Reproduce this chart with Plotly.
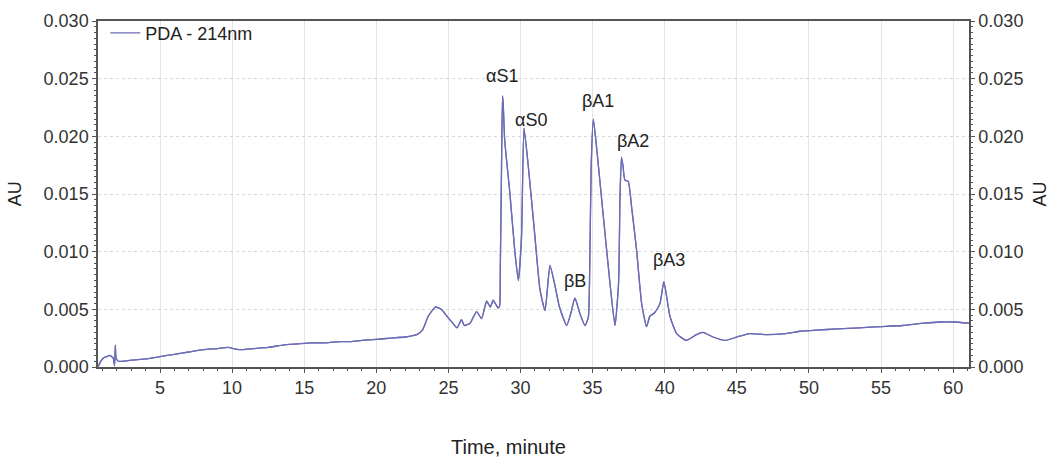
import plotly.graph_objects as go

time_min = [0.7, 0.9, 1.1, 1.3, 1.5, 1.75, 1.85, 1.9, 1.95, 2.1, 2.5, 3, 4, 5, 6, 7, 8, 9, 9.7,
            10.5, 11.5, 12.5, 13.5, 14.5, 15.5, 16.5, 17.5, 18.2, 19, 20, 21, 22, 22.8, 23.2,
            23.6, 24.1, 24.5, 24.9, 25.3, 25.6, 25.9, 26.1, 26.5, 26.95, 27.3, 27.65, 27.9,
            28.1, 28.3, 28.45, 28.55, 28.6, 28.68, 28.75, 28.8, 28.9, 29.26, 29.6, 29.85,
            30.07, 30.24, 30.54, 31.0, 31.35, 31.7, 32.04, 32.4, 32.7, 33.2, 33.5, 33.77,
            34.1, 34.47, 34.7, 34.8, 34.9, 35.05, 35.27, 35.7, 36.2, 36.55, 36.8, 36.9, 37.0,
            37.1, 37.24, 37.47, 37.7, 38.05, 38.4, 38.74, 38.97, 39.3, 39.67, 39.94, 40.36,
            40.83, 41.5, 42.2, 42.65, 43.35, 44.2, 45, 45.9, 47.1, 48.4, 49.4, 50.5, 52,
            53.5, 55, 56.5, 58, 59.1, 60, 61.1]
absorbance = [0.0, 0.0005, 0.0008, 0.0009, 0.001, 0.0008, 0.0001, 0.0019, 0.0008, 0.0005,
              0.0005, 0.0006, 0.0007, 0.0009, 0.0011, 0.0013, 0.0015, 0.0016, 0.0017,
              0.0015, 0.0016, 0.0017, 0.0019, 0.002, 0.0021, 0.0021, 0.0022, 0.0022, 0.0023,
              0.0024, 0.0025, 0.0026, 0.0028, 0.0032, 0.0044, 0.0052, 0.0050, 0.0044, 0.0038,
              0.0034, 0.0041, 0.0036, 0.0038, 0.0048, 0.0042, 0.0057, 0.0052, 0.0058, 0.0054,
              0.0051, 0.0053, 0.0088, 0.017, 0.0235, 0.0228, 0.0197, 0.0151, 0.0101, 0.0075,
              0.0113, 0.0207, 0.0174, 0.0113, 0.0067, 0.0049, 0.0088, 0.007, 0.0052, 0.0036,
              0.0047, 0.006, 0.0047, 0.0036, 0.0043, 0.0087, 0.0174, 0.0215, 0.0191, 0.0136,
              0.0073, 0.0036, 0.0073, 0.0148, 0.0182, 0.0175, 0.0162, 0.0161, 0.0139, 0.0101,
              0.0055, 0.0035, 0.0044, 0.0047, 0.0055, 0.0074, 0.0044, 0.0029, 0.0023, 0.0028,
              0.003, 0.0026, 0.0023, 0.0026, 0.0029, 0.0028, 0.0029, 0.0031, 0.0032, 0.0033,
              0.0034, 0.0035, 0.0036, 0.0038, 0.0039, 0.0039, 0.0038]

peak_labels = ["αS1", "αS0", "βB", "βA1", "βA2", "βA3"]
peak_label_x = [28.7, 30.72, 33.77, 35.37, 37.8, 40.29]
peak_label_y = [0.0252, 0.0214, 0.0075, 0.0231, 0.0196, 0.0093]

x_ticks = [5, 10, 15, 20, 25, 30, 35, 40, 45, 50, 55, 60]
y_ticks = [0.000, 0.005, 0.010, 0.015, 0.020, 0.025, 0.030]

line_color = "#6c6cb6"
axis_color = "#555555"
text_color = "#333333"
fam = "Liberation Sans, Arial, sans-serif"

fig = go.Figure()
fig.add_trace(go.Scatter(x=time_min, y=absorbance, mode="lines", name="PDA - 214nm",
                         line=dict(color=line_color, width=1.3, shape="spline", smoothing=0.5)))
fig.add_trace(go.Scatter(x=time_min, y=absorbance, mode="lines", yaxis="y2",
                         showlegend=False, hoverinfo="skip",
                         line=dict(color=line_color, width=1.3, shape="spline", smoothing=0.5)))

for lab, lx, ly in zip(peak_labels, peak_label_x, peak_label_y):
    fig.add_annotation(x=lx, y=ly, text=lab, showarrow=False, xanchor="center", yanchor="middle",
                       font=dict(family=fam, size=18, color="#222222"))

# axis titles
fig.add_annotation(xref="paper", yref="paper", x=0.471, y=-0.231, text="Time, minute",
                   xanchor="center", yanchor="middle",
                   showarrow=False, font=dict(family=fam, size=20, color="#222222"))
fig.add_annotation(xref="paper", yref="paper", x=-0.095, y=0.5, text="AU", textangle=-90,
                   xanchor="center", yanchor="middle",
                   showarrow=False, font=dict(family=fam, size=18, color="#222222"))
fig.add_annotation(xref="paper", yref="paper", x=1.081, y=0.5, text="AU", textangle=-90,
                   xanchor="center", yanchor="middle",
                   showarrow=False, font=dict(family=fam, size=18, color="#222222"))

fig.update_layout(
    width=1052, height=459,
    margin=dict(l=98, r=83, t=21, b=92, autoexpand=False),
    plot_bgcolor="white", paper_bgcolor="white",
    font=dict(family=fam, size=18, color=text_color),
    showlegend=True,
    legend=dict(x=0.0084, y=0.965, xanchor="left", yanchor="middle", bgcolor="rgba(0,0,0,0)",
                font=dict(size=18, color="#222222")),
    xaxis=dict(range=[0.7, 61.1], tickvals=x_ticks, showline=True, linecolor=axis_color,
               linewidth=1.5, mirror=True, ticks="outside", ticklen=4, tickcolor=axis_color,
               showgrid=True, gridcolor="#e4e4e4", gridwidth=1, zeroline=False,
               automargin=False,
               minor=dict(dtick=1, ticks="outside", ticklen=2, tickcolor=axis_color, showgrid=False)),
    yaxis=dict(range=[0, 0.030], tickvals=y_ticks, tickformat=".3f", showline=True,
               linecolor=axis_color, linewidth=1.5, ticks="outside", ticklen=4,
               tickcolor=axis_color, showgrid=True, gridcolor="#d8d8d8", griddash="dot",
               gridwidth=1, zeroline=False, automargin=False,
               minor=dict(dtick=0.0005, ticks="outside", ticklen=2, tickcolor=axis_color, showgrid=False)),
    yaxis2=dict(range=[0, 0.030], tickvals=y_ticks, tickformat=".3f", overlaying="y",
                side="right", showline=True, linecolor=axis_color, linewidth=1.5,
                ticks="outside", ticklen=4, tickcolor=axis_color, showgrid=False,
                zeroline=False, automargin=False,
                minor=dict(dtick=0.0005, ticks="outside", ticklen=2, tickcolor=axis_color)),
)

fig.write_html("out.html", config={"displayModeBar": False},
               post_script="document.body.style.margin='0';document.body.style.overflow='hidden';")
